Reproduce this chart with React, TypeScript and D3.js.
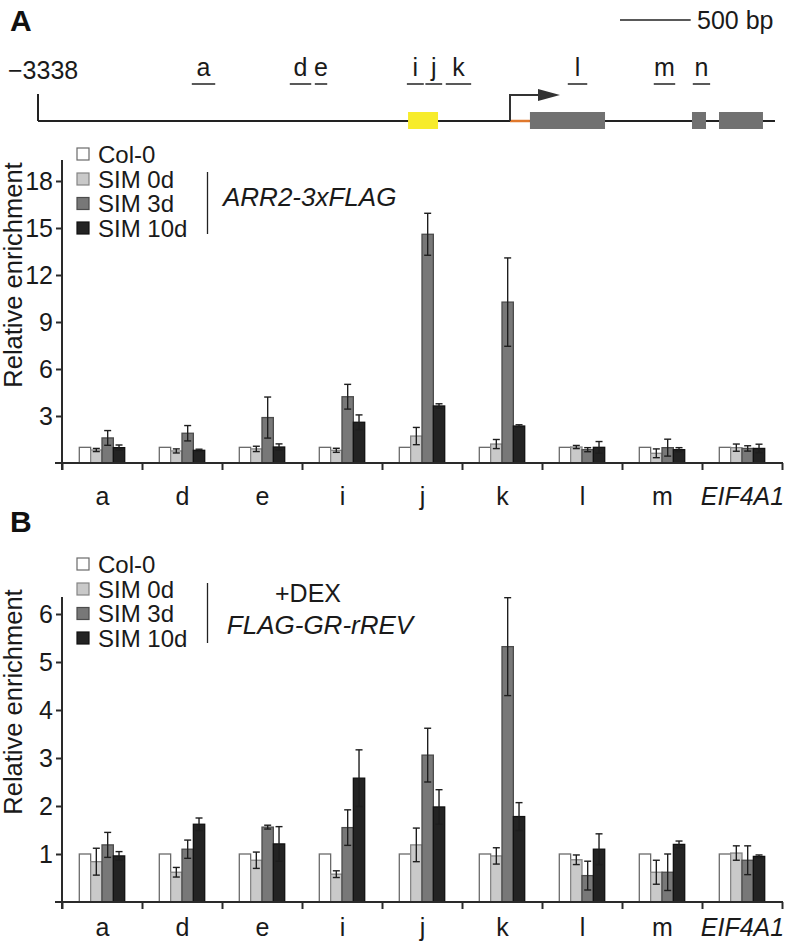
import React, { useEffect, useRef } from "react";
import * as d3 from "d3";

const FONT = "'Liberation Sans', Arial, Helvetica, sans-serif";

const categories = ["a", "d", "e", "i", "j", "k", "l", "m", "EIF4A1"];
const seriesNames = ["Col-0", "SIM 0d", "SIM 3d", "SIM 10d"];

// Panel A: ARR2-3xFLAG
const col0A = [1, 1, 1, 1, 1, 1, 1, 1, 1];
const sim0A = [0.83, 0.77, 0.9, 0.81, 1.72, 1.21, 1.02, 0.62, 0.98];
const sim0AErr = [0.1, 0.13, 0.17, 0.13, 0.55, 0.29, 0.1, 0.28, 0.23];
const sim3A = [1.6, 1.9, 2.9, 4.23, 14.6, 10.27, 0.85, 0.98, 0.93];
const sim3AErr = [0.47, 0.49, 1.31, 0.79, 1.34, 2.82, 0.13, 0.54, 0.17];
const sim10A = [0.98, 0.81, 1.02, 2.6, 3.64, 2.36, 1.0, 0.85, 0.93];
const sim10AErr = [0.17, 0.07, 0.2, 0.47, 0.14, 0.08, 0.37, 0.13, 0.27];
const yTicksA = [3, 6, 9, 12, 15, 18];

// Panel B: FLAG-GR-rREV +DEX
const col0B = [1, 1, 1, 1, 1, 1, 1, 1, 1];
const sim0B = [0.84, 0.62, 0.87, 0.58, 1.19, 0.96, 0.88, 0.62, 1.02];
const sim0BErr = [0.28, 0.1, 0.17, 0.07, 0.35, 0.17, 0.1, 0.25, 0.15];
const sim3B = [1.19, 1.1, 1.56, 1.55, 3.06, 5.32, 0.55, 0.62, 0.87];
const sim3BErr = [0.26, 0.19, 0.04, 0.37, 0.56, 1.02, 0.3, 0.38, 0.3];
const sim10B = [0.96, 1.62, 1.21, 2.58, 1.98, 1.78, 1.1, 1.2, 0.95];
const sim10BErr = [0.09, 0.13, 0.36, 0.59, 0.36, 0.29, 0.32, 0.07, 0.03];
const yTicksB = [1, 2, 3, 4, 5, 6];

// Gene diagram (bp relative to TSS)
const geneStart = -3338;
const geneEnd = 1874;
const enhancerBox = [-721, -509];
const utr5 = [0, 141];
const exons = [
  [141, 672],
  [1287, 1386],
  [1478, 1789],
];
const ampliconNames = ["a", "d", "e", "i", "j", "k", "l", "m", "n"];
const ampliconStart = [-2256, -1563, -1386, -735, -604, -460, 403, 1011, 1287];
const ampliconEnd = [-2079, -1400, -1287, -604, -474, -269, 552, 1174, 1421];
const scaleBarBp = 500;

const fills = ["#ffffff", "#c9c9c9", "#787878", "#232323"];
const strokes = ["#6a6a6a", "#858585", "#4c4c4c", "#111111"];

type PanelProps = {
  values: number[][];
  errors: (number[] | null)[];
  yMax: number;
  yRange: [number, number];
  axisTop: number;
  ticks: number[];
  labelBaseline: number;
  titleY: number;
};

const xBand = d3.scaleBand<string>().domain(categories).range([62.5, 782.5]);
const inner = d3.scaleBand<string>().domain(seriesNames).range([16.8, 62.2]);

function Panel({ values, errors, yMax, yRange, axisTop, ticks, labelBaseline, titleY }: PanelProps) {
  const axisRef = useRef<SVGGElement>(null);
  const y = d3.scaleLinear().domain([0, yMax]).range(yRange);
  const y0 = y(0);
  useEffect(() => {
    if (!axisRef.current) return;
    const g = d3.select(axisRef.current);
    g.selectAll("*").remove();
    g.call(d3.axisLeft(y).tickValues(ticks).tickSize(6).tickPadding(3).tickFormat(d3.format("d")) as any);
    g.select(".domain").remove();
    g.selectAll(".tick line").attr("stroke", "#2a2a2a").attr("stroke-width", 2);
    g.selectAll(".tick text")
      .attr("font-family", FONT)
      .attr("font-size", 25)
      .attr("fill", "#1a1a1a");
  }, [yMax, yRange[0], yRange[1]]);

  const bw = inner.bandwidth();
  const bounds = d3.range(categories.length + 1).map((i) => xBand.range()[0] + i * xBand.step());

  return (
    <g>
      {categories.map((c, i) => (
        <g key={c}>
          {seriesNames.map((s, k) => {
            const v = values[k][i];
            const bx = (xBand(c) as number) + (inner(s) as number);
            return (
              <rect
                key={s}
                x={bx}
                y={y(v)}
                width={bw}
                height={y0 - y(v)}
                fill={fills[k]}
                stroke={strokes[k]}
                strokeWidth={1.3}
              />
            );
          })}
          {seriesNames.map((s, k) => {
            const errs = errors[k];
            if (!errs) return null;
            const v = values[k][i];
            const e = errs[i];
            const cx = (xBand(c) as number) + (inner(s) as number) + bw / 2;
            const lo = y(v - e);
            const hi = y(v + e);
            return (
              <g key={"e" + s} stroke="#1e1e1e" strokeWidth={1.4}>
                <line x1={cx} x2={cx} y1={lo} y2={hi} />
                <line x1={cx - 3.5} x2={cx + 3.5} y1={lo} y2={lo} />
                <line x1={cx - 3.5} x2={cx + 3.5} y1={hi} y2={hi} />
              </g>
            );
          })}
        </g>
      ))}
      <line x1={62} x2={62} y1={axisTop} y2={y0 + 7} stroke="#2a2a2a" strokeWidth={2} />
      <g ref={axisRef} transform="translate(62,0)" />
      <line x1={55} x2={783} y1={y0} y2={y0} stroke="#2a2a2a" strokeWidth={2} />
      {bounds.map((b, i) => (
        <line key={i} x1={b} x2={b} y1={y0} y2={y0 + 7} stroke="#2a2a2a" strokeWidth={2} />
      ))}
      {categories.map((c) => (
        <text
          key={c}
          x={(xBand(c) as number) + xBand.bandwidth() / 2}
          y={labelBaseline}
          textAnchor="middle"
          fontFamily={FONT}
          fontSize={25}
          fontStyle={c === "EIF4A1" ? "italic" : "normal"}
          fill="#1a1a1a"
        >
          {c}
        </text>
      ))}
      <text
        transform={`translate(22,${titleY}) rotate(-90)`}
        textAnchor="middle"
        fontFamily={FONT}
        fontSize={25.5}
        fill="#1a1a1a"
      >
        Relative enrichment
      </text>
    </g>
  );
}

function Legend({ ys }: { ys: number[] }) {
  return (
    <g>
      {seriesNames.map((s, k) => (
        <g key={s}>
          <rect x={77} y={ys[k] - 6} width={12} height={12} fill={fills[k]} stroke={strokes[k]} strokeWidth={1.2} />
          <text x={98} y={ys[k]} dominantBaseline="central" fontFamily={FONT} fontSize={24} fill="#1a1a1a">
            {s}
          </text>
        </g>
      ))}
    </g>
  );
}

function GeneDiagram() {
  const gx = d3.scaleLinear().domain([geneStart, 0]).range([38, 510]);
  const lineY = 121;
  return (
    <g>
      <text x={10} y={31} fontFamily={FONT} fontWeight="bold" fontSize={30} fill="#111">
        A
      </text>
      <line x1={gx(geneStart) + 582} x2={gx(geneStart + scaleBarBp) + 582} y1={20} y2={20} stroke="#222" strokeWidth={1.5} />
      <text x={697} y={20} dominantBaseline="central" fontFamily={FONT} fontSize={25} fill="#1a1a1a">
        500 bp
      </text>
      <text x={8} y={70} dominantBaseline="central" fontFamily={FONT} fontSize={25} fill="#1a1a1a">
        −3338
      </text>
      {ampliconNames.map((n, i) => {
        const x1 = gx(ampliconStart[i]);
        const x2 = gx(ampliconEnd[i]);
        return (
          <g key={n}>
            <line x1={x1 + 0.8} x2={x2 - 0.8} y1={84} y2={84} stroke="#222" strokeWidth={1.5} />
            <text x={(x1 + x2) / 2} y={76} textAnchor="middle" fontFamily={FONT} fontSize={25} fill="#1a1a1a">
              {n}
            </text>
          </g>
        );
      })}
      <line x1={gx(geneStart)} x2={gx(geneStart)} y1={94} y2={lineY} stroke="#222" strokeWidth={2} />
      <line x1={gx(geneStart)} x2={gx(geneEnd)} y1={lineY} y2={lineY} stroke="#222" strokeWidth={2} />
      <rect x={gx(enhancerBox[0])} y={112} width={gx(enhancerBox[1]) - gx(enhancerBox[0])} height={17} fill="#f7ec2a" />
      <line x1={gx(utr5[0])} x2={gx(utr5[1])} y1={lineY} y2={lineY} stroke="#e0782c" strokeWidth={2.5} />
      {exons.map((e, i) => (
        <rect key={i} x={gx(e[0])} y={112} width={gx(e[1]) - gx(e[0])} height={17} fill="#717171" />
      ))}
      <path d={`M${gx(0)},${lineY} V95 H${gx(0) + 30}`} fill="none" stroke="#333" strokeWidth={2} />
      <path d={`M${gx(0) + 28},89 L${gx(0) + 50},95 L${gx(0) + 28},101 Z`} fill="#333" />
    </g>
  );
}

export default function App() {
  return (
    <div style={{ position: "absolute", left: 0, top: 0 }}>
      <svg width={789} height={942} viewBox="0 0 789 942" style={{ display: "block", background: "#fff" }}>
        <rect width={789} height={942} fill="#fff" />
        <GeneDiagram />
        <Legend ys={[154, 179, 203.5, 228]} />
        <line x1={207.5} x2={207.5} y1={172} y2={234} stroke="#222" strokeWidth={1.3} />
        <text x={223} y={197} dominantBaseline="central" fontFamily={FONT} fontSize={26} fontStyle="italic" fill="#1a1a1a">
          ARR2-3xFLAG
        </text>
        <Panel
          values={[col0A, sim0A, sim3A, sim10A]}
          errors={[null, sim0AErr, sim3AErr, sim10AErr]}
          yMax={18}
          yRange={[463, 181]}
          axisTop={160}
          ticks={yTicksA}
          labelBaseline={505}
          titleY={275}
        />
        <text x={10} y={532} fontFamily={FONT} fontWeight="bold" fontSize={30} fill="#111">
          B
        </text>
        <Legend ys={[564, 589, 613.5, 638]} />
        <line x1={207.5} x2={207.5} y1={583} y2={643} stroke="#222" strokeWidth={1.3} />
        <text x={308} y={593} textAnchor="middle" dominantBaseline="central" fontFamily={FONT} fontSize={25} fill="#1a1a1a">
          +DEX
        </text>
        <text x={320} y={625} textAnchor="middle" dominantBaseline="central" fontFamily={FONT} fontSize={26} fontStyle="italic" fill="#1a1a1a">
          FLAG-GR-rREV
        </text>
        <Panel
          values={[col0B, sim0B, sim3B, sim10B]}
          errors={[null, sim0BErr, sim3BErr, sim10BErr]}
          yMax={6}
          yRange={[902, 614]}
          axisTop={597}
          ticks={yTicksB}
          labelBaseline={936}
          titleY={702}
        />
      </svg>
    </div>
  );
}
